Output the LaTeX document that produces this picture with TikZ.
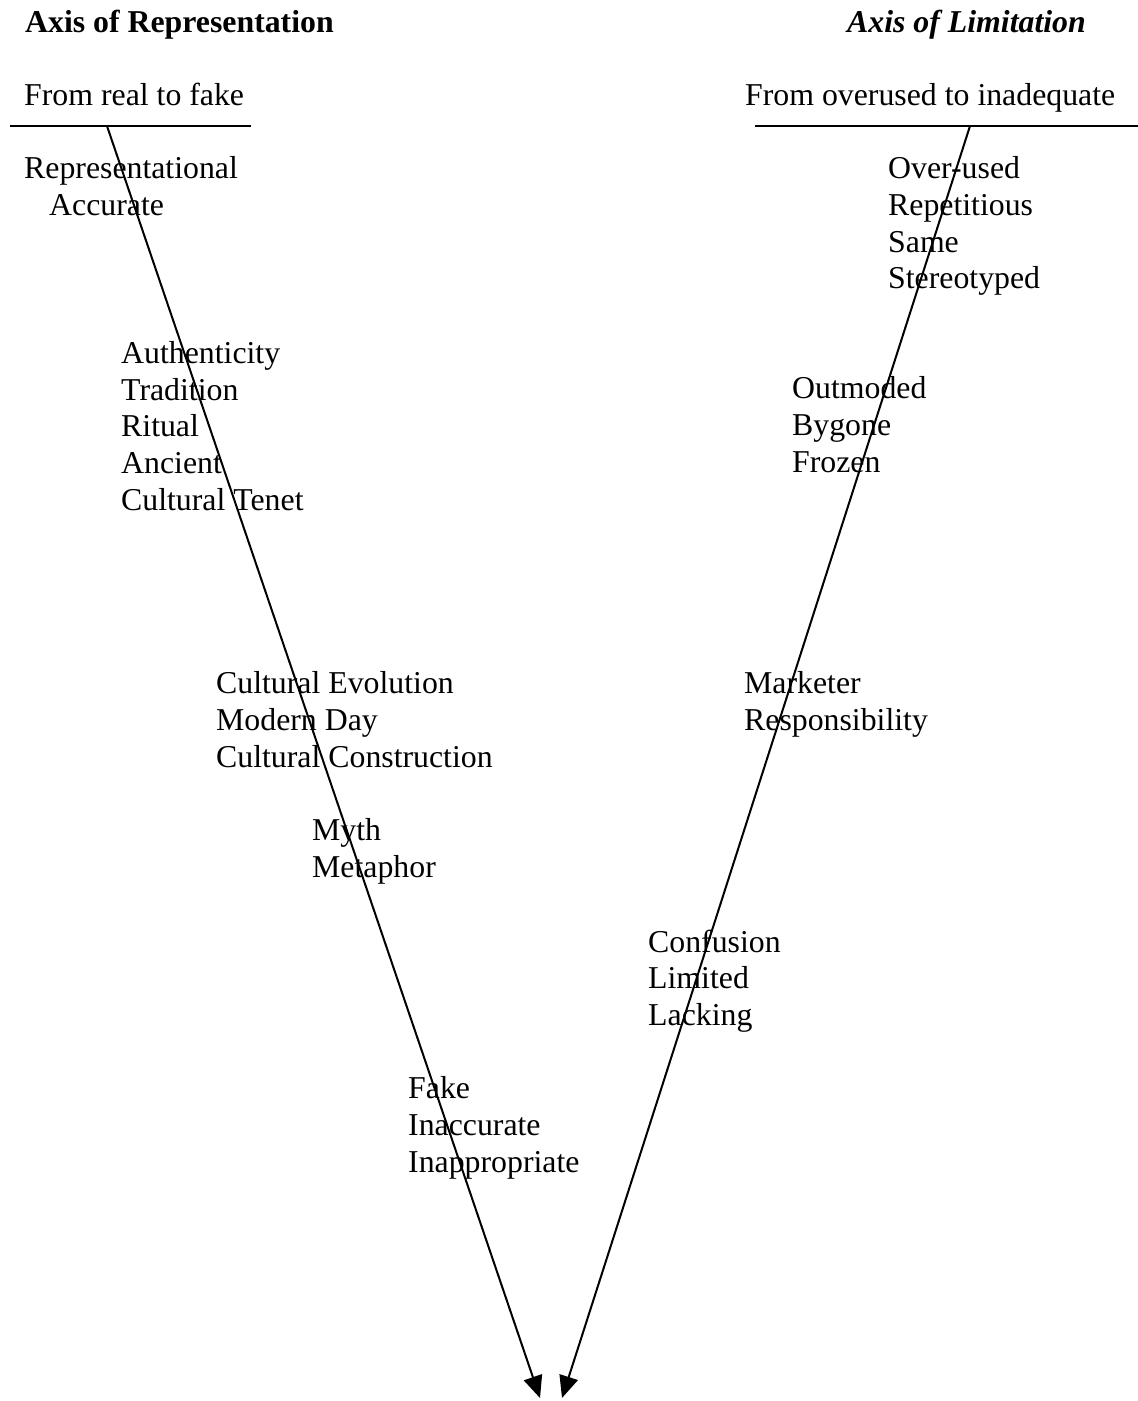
\documentclass[tikz,border=0pt]{standalone}
\usepackage{fontspec}
\setmainfont{Liberation Serif}
\usetikzlibrary{arrows.meta}
\begin{document}
\begin{tikzpicture}[x=1pt,y=-1pt,
  lbl/.style={anchor=base west,inner sep=0pt,font=\fontsize{31.8}{36.7}\selectfont},
  hdr/.style={lbl,font=\fontsize{31.8}{36.7}\selectfont\bfseries},
  axisline/.style={line width=2pt},
  arr/.style={line width=2pt,-{Triangle[length=22pt,width=19pt]}}]
\useasboundingbox (0,0) rectangle (1138,1401);
% headers
\node[hdr] (axR) at (25,32) {Axis of Representation};
\node[hdr,font=\fontsize{31.8}{36.7}\selectfont\bfseries\itshape] (axL) at (847,32) {Axis of Limitation};
\node[lbl] (fr) at (24,105) {From real to fake};
\node[lbl] (fo) at (745,105) {From overused to inadequate};
% header rules
\coordinate (r1a) at (10,126); \coordinate (r1b) at (251,126);
\coordinate (r2a) at (755,126); \coordinate (r2b) at (1138,126);
\draw[axisline] (r1a) -- (r1b);
\draw[axisline] (r2a) -- (r2b);
% arrows
\coordinate (Ls) at (107,126); \coordinate (Le) at (540,1398);
\coordinate (Rs) at (970,126); \coordinate (Re) at (562,1398);
\draw[arr] (Ls) -- (Le);
\draw[arr] (Rs) -- (Re);
% left column words
\node[lbl] (a1) at (24,178) {Representational};
\node[lbl] (a2) at (49,215) {Accurate};
\node[lbl] (b1) at (121,363) {Authenticity};
\node[lbl] (b2) at (121,400) {Tradition};
\node[lbl] (b3) at (121,436) {Ritual};
\node[lbl] (b4) at (121,473) {Ancient};
\node[lbl] (b5) at (121,510) {Cultural Tenet};
\node[lbl] (c1) at (216,693) {Cultural Evolution};
\node[lbl] (c2) at (216,730) {Modern Day};
\node[lbl] (c3) at (216,767) {Cultural Construction};
\node[lbl] (d1) at (312,840) {Myth};
\node[lbl] (d2) at (312,877) {Metaphor};
\node[lbl] (e1) at (408,1098) {Fake};
\node[lbl] (e2) at (408,1135) {Inaccurate};
\node[lbl] (e3) at (408,1172) {Inappropriate};
% right column words
\node[lbl] (f1) at (888,178) {Over-used};
\node[lbl] (f2) at (888,215) {Repetitious};
\node[lbl] (f3) at (888,252) {Same};
\node[lbl] (f4) at (888,288) {Stereotyped};
\node[lbl] (g1) at (792,398) {Outmoded};
\node[lbl] (g2) at (792,435) {Bygone};
\node[lbl] (g3) at (792,472) {Frozen};
\node[lbl] (h1) at (744,693) {Marketer};
\node[lbl] (h2) at (744,730) {Responsibility};
\node[lbl] (i1) at (648,952) {Confusion};
\node[lbl] (i2) at (648,988) {Limited};
\node[lbl] (i3) at (648,1025) {Lacking};
\end{tikzpicture}
\end{document}
